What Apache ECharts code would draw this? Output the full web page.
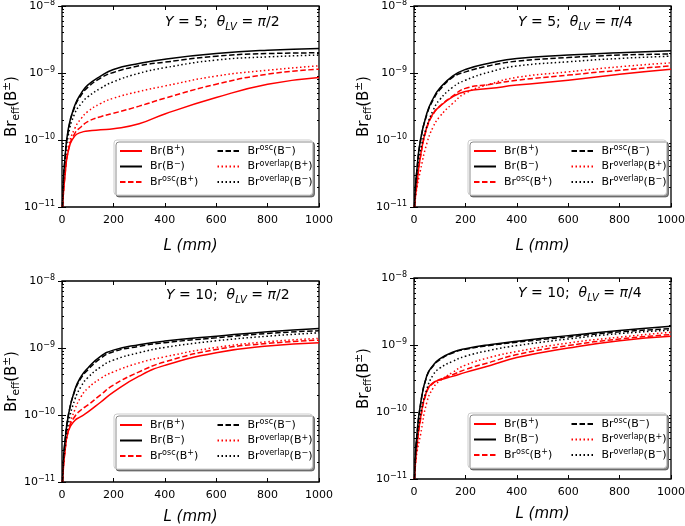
<!DOCTYPE html>
<html><head><meta charset="utf-8">
<script src="https://cdn.jsdelivr.net/npm/echarts@6/dist/echarts.min.js"></script>
<style>html,body{margin:0;padding:0;background:#fff}#c{width:685px;height:526px}</style>
</head><body><div id="c"></div>
<script>
// ---------------- data ----------------
const L = [2, 5, 10, 25, 50, 75, 100, 150, 200, 300, 400, 600, 800, 1000];
const xTicks = [0, 200, 400, 600, 800, 1000];
const yTickExps = ['−11', '−10', '−9', '−8'];
const seriesNames = ['Br(B+)', 'Br(B-)', 'Br^osc(B+)', 'Br^osc(B-)', 'Br^overlap(B+)', 'Br^overlap(B-)'];
const legendLabels = [
  '{n|Br(B}{s|+}{n|)}', '{n|Br(B}{s|−}{n|)}',
  '{n|Br}{s|osc}{n|(B}{s|+}{n|)}', '{n|Br}{s|osc}{n|(B}{s|−}{n|)}',
  '{n|Br}{s|overlap}{n|(B}{s|+}{n|)}', '{n|Br}{s|overlap}{n|(B}{s|−}{n|)}'
];
const panelY = ['5', '5', '10', '10'];
const panelTheta = ['π/2', 'π/4', 'π/2', 'π/4'];

// Panel 1: Y=5, theta=pi/2
const p1_BrBp   = [1e-11, 1.5e-11, 2.5e-11, 7e-11, 1.15e-10, 1.3e-10, 1.36e-10, 1.42e-10, 1.47e-10, 1.75e-10, 2.45e-10, 4.3e-10, 6.8e-10, 8.6e-10];
const p1_BrBm   = [1e-11, 2.2e-11, 4.5e-11, 1.5e-10, 3.3e-10, 5.0e-10, 6.6e-10, 9.0e-10, 1.13e-9, 1.39e-9, 1.61e-9, 1.95e-9, 2.19e-9, 2.32e-9];
const p1_oscBp  = [1e-11, 1.5e-11, 2.6e-11, 7.1e-11, 1.26e-10, 1.58e-10, 1.88e-10, 2.23e-10, 2.5e-10, 3.2e-10, 4.2e-10, 6.8e-10, 9.6e-10, 1.14e-9];
const p1_oscBm  = [1e-11, 2.2e-11, 4.4e-11, 1.4e-10, 3.15e-10, 4.7e-10, 6.1e-10, 8.4e-10, 1.02e-9, 1.28e-9, 1.45e-9, 1.78e-9, 1.95e-9, 2.0e-9];
const p1_ovlBp  = [1e-11, 1.6e-11, 3e-11, 8e-11, 1.5e-10, 2.1e-10, 2.65e-10, 3.5e-10, 4.2e-10, 5.3e-10, 6.4e-10, 9.0e-10, 1.1e-9, 1.28e-9];
const p1_ovlBm  = [1e-11, 2.1e-11, 4.2e-11, 1.2e-10, 2.5e-10, 3.5e-10, 4.4e-10, 5.9e-10, 7.4e-10, 9.9e-10, 1.2e-9, 1.56e-9, 1.74e-9, 1.85e-9];

// Panel 2: Y=5, theta=pi/4
const p2_BrBp   = [1e-11, 1.4e-11, 2.0e-11, 5.7e-11, 1.58e-10, 2.5e-10, 3.15e-10, 4.4e-10, 5.3e-10, 5.9e-10, 6.6e-10, 7.8e-10, 9.6e-10, 1.14e-9];
const p2_BrBm   = [1e-11, 1.8e-11, 3.2e-11, 1.0e-10, 2.5e-10, 4.2e-10, 5.9e-10, 9.0e-10, 1.13e-9, 1.42e-9, 1.65e-9, 1.85e-9, 2.0e-9, 2.14e-9];
const p2_oscBp  = [1e-11, 1.4e-11, 2.0e-11, 5.5e-11, 1.5e-10, 2.45e-10, 3.2e-10, 4.5e-10, 5.9e-10, 6.8e-10, 7.8e-10, 9.3e-10, 1.1e-9, 1.28e-9];
const p2_oscBm  = [1e-11, 1.8e-11, 3.1e-11, 9.5e-11, 2.4e-10, 4.0e-10, 5.6e-10, 8.6e-10, 1.04e-9, 1.3e-9, 1.5e-9, 1.7e-9, 1.85e-9, 1.92e-9];
const p2_ovlBp  = [1e-11, 1.3e-11, 1.8e-11, 3.5e-11, 8.9e-11, 1.58e-10, 2.23e-10, 3.5e-10, 5.0e-10, 6.9e-10, 8.6e-10, 1.04e-9, 1.24e-9, 1.42e-9];
const p2_ovlBm  = [1e-11, 1.6e-11, 2.8e-11, 7e-11, 1.6e-10, 2.8e-10, 4.0e-10, 6.1e-10, 7.8e-10, 1.05e-9, 1.27e-9, 1.47e-9, 1.65e-9, 1.78e-9];

// Panel 3: Y=10, theta=pi/2
const p3_BrBp   = [1e-11, 1.5e-11, 2.5e-11, 5.8e-11, 8.3e-11, 9.5e-11, 1.1e-10, 1.55e-10, 2.2e-10, 3.8e-10, 5.5e-10, 8.5e-10, 1.07e-9, 1.2e-9];
const p3_BrBm   = [1e-11, 2.0e-11, 3.5e-11, 1.0e-10, 2.4e-10, 3.8e-10, 5.0e-10, 7.5e-10, 9.3e-10, 1.12e-9, 1.27e-9, 1.5e-9, 1.75e-9, 1.96e-9];
const p3_oscBp  = [1e-11, 1.6e-11, 2.6e-11, 6e-11, 9.5e-11, 1.2e-10, 1.4e-10, 2.0e-10, 2.8e-10, 4.4e-10, 6.2e-10, 9.5e-10, 1.17e-9, 1.31e-9];
const p3_oscBm  = [1e-11, 2.0e-11, 3.5e-11, 1.0e-10, 2.3e-10, 3.6e-10, 4.7e-10, 7.0e-10, 8.8e-10, 1.06e-9, 1.2e-9, 1.42e-9, 1.65e-9, 1.81e-9];
const p3_ovlBp  = [1e-11, 1.6e-11, 2.6e-11, 6e-11, 1.2e-10, 1.9e-10, 2.5e-10, 3.5e-10, 4.4e-10, 6.0e-10, 7.4e-10, 1.02e-9, 1.24e-9, 1.39e-9];
const p3_ovlBm  = [1e-11, 1.8e-11, 3.0e-11, 7.5e-11, 1.7e-10, 2.7e-10, 3.6e-10, 5.2e-10, 6.6e-10, 8.5e-10, 1.02e-9, 1.28e-9, 1.5e-9, 1.69e-9];

// Panel 4: Y=10, theta=pi/4
const p4_BrBp   = [1e-11, 1.6e-11, 2.7e-11, 8e-11, 2.1e-10, 2.75e-10, 3.0e-10, 3.4e-10, 3.9e-10, 5.0e-10, 6.5e-10, 9.0e-10, 1.16e-9, 1.35e-9];
const p4_BrBm   = [1e-11, 2.0e-11, 4.0e-11, 1.3e-10, 3.5e-10, 5.0e-10, 6.2e-10, 7.8e-10, 8.8e-10, 1.02e-9, 1.14e-9, 1.38e-9, 1.64e-9, 1.9e-9];
const p4_oscBp  = [1e-11, 1.6e-11, 2.7e-11, 7.5e-11, 2.0e-10, 2.7e-10, 3.05e-10, 3.6e-10, 4.3e-10, 5.6e-10, 7.2e-10, 9.8e-10, 1.23e-9, 1.43e-9];
const p4_oscBm  = [1e-11, 2.0e-11, 3.9e-11, 1.25e-10, 3.4e-10, 4.9e-10, 6.0e-10, 7.6e-10, 8.6e-10, 9.9e-10, 1.1e-9, 1.32e-9, 1.57e-9, 1.75e-9];
const p4_ovlBp  = [1e-11, 1.5e-11, 2.3e-11, 4.5e-11, 1.4e-10, 2.3e-10, 2.9e-10, 3.9e-10, 5.0e-10, 6.6e-10, 8.0e-10, 1.07e-9, 1.31e-9, 1.55e-9];
const p4_ovlBm  = [1e-11, 1.8e-11, 3.2e-11, 9e-11, 2.2e-10, 3.6e-10, 4.5e-10, 5.7e-10, 6.8e-10, 8.4e-10, 9.8e-10, 1.23e-9, 1.48e-9, 1.66e-9];

const panels = [
  [p1_BrBp, p1_BrBm, p1_oscBp, p1_oscBm, p1_ovlBp, p1_ovlBm],
  [p2_BrBp, p2_BrBm, p2_oscBp, p2_oscBm, p2_ovlBp, p2_ovlBm],
  [p3_BrBp, p3_BrBm, p3_oscBp, p3_oscBm, p3_ovlBp, p3_ovlBm],
  [p4_BrBp, p4_BrBm, p4_oscBp, p4_oscBm, p4_ovlBp, p4_ovlBm]
];

// ---------------- layout / style ----------------
const FONT = 'DejaVu Sans';
const gridBoxes = [
  {left: 62, top: 6, width: 257, height: 201},
  {left: 414, top: 6, width: 257, height: 201},
  {left: 62, top: 281, width: 257, height: 201},
  {left: 414, top: 278, width: 257, height: 201}
];
const xNameGaps = [32, 32, 28, 28];
const titlePos = [[165, 12], [518, 12], [166, 285], [518, 283]];
const legendPos = [[114, 140], [468, 140], [114, 414], [468, 413]];
const seriesColors = ['#ff0000', '#000000', '#ff0000', '#000000', '#ff0000', '#000000'];
const seriesDash = ['solid', 'solid', [5.5, 2.5], [5.5, 2.5], [1.5, 2.5], [1.5, 2.5]];

const minorTicks = [];
[1e-11, 1e-10, 1e-9].forEach(d => { for (let m = 2; m <= 9; m++) minorTicks.push(m * d); });

const tickStyle = {color: '#000', width: 1};
const grid = [], xAxis = [], yAxis = [], series = [], legend = [], title = [];

function yLabel(v) {
  const e = Math.round(Math.log10(v));
  const idx = e + 11;
  return '{b|10}{s|' + yTickExps[idx] + '}';
}

for (let p = 0; p < 4; p++) {
  grid.push(Object.assign({show: true, borderColor: '#000', borderWidth: 1.3,
    backgroundColor: 'transparent', outerBoundsMode: 'none', containLabel: false}, gridBoxes[p]));

  xAxis.push({
    type: 'value', gridIndex: p, min: xTicks[0], max: xTicks[xTicks.length - 1], interval: 200,
    position: 'bottom',
    axisLine: {show: false}, splitLine: {show: false},
    axisTick: {show: true, inside: true, length: 4, lineStyle: tickStyle},
    axisLabel: {color: '#000', fontSize: 11, fontFamily: FONT, margin: 8, formatter: v => String(v)},
    name: 'L (mm)', nameLocation: 'middle', nameGap: xNameGaps[p], nameMoveOverlap: false,
    nameTextStyle: {fontSize: 15, fontStyle: 'italic', fontFamily: FONT, color: '#000'}
  });
  xAxis.push({
    type: 'value', gridIndex: p, min: 0, max: 1000, interval: 200, position: 'top',
    axisLine: {show: false}, splitLine: {show: false},
    axisTick: {show: true, inside: true, length: 4, lineStyle: tickStyle},
    axisLabel: {show: false}
  });

  const yBase = {type: 'log', logBase: 10, gridIndex: p, min: 1e-11, max: 1e-8,
    axisLine: {show: false}, splitLine: {show: false}, minorTick: {show: false}};
  yAxis.push(Object.assign({}, yBase, {
    position: 'left',
    axisTick: {show: true, inside: true, length: 4, lineStyle: tickStyle},
    axisLabel: {formatter: yLabel, margin: 7, color: '#000', fontFamily: FONT,
      rich: {
        b: {fontSize: 11, lineHeight: 14, fontFamily: FONT, color: '#000'},
        s: {fontSize: 8, lineHeight: 8, verticalAlign: 'top', fontFamily: FONT, color: '#000'}
      }},
    name: '{n|Br}{sub|eff}{n|(B}{sup|±}{n|)}', nameLocation: 'middle', nameGap: 40, nameMoveOverlap: false,
    nameTextStyle: {color: '#000', fontFamily: FONT, fontSize: 15,
      rich: {
        n: {fontSize: 15, lineHeight: 20, fontFamily: FONT, color: '#000'},
        sub: {fontSize: 10.5, lineHeight: 11, verticalAlign: 'bottom', fontFamily: FONT, color: '#000'},
        sup: {fontSize: 10.5, lineHeight: 11, verticalAlign: 'top', fontFamily: FONT, color: '#000'}
      }}
  }));
  yAxis.push(Object.assign({}, yBase, {
    position: 'right',
    axisTick: {show: true, inside: true, length: 4, lineStyle: tickStyle},
    axisLabel: {show: false}
  }));
  yAxis.push(Object.assign({}, yBase, {
    position: 'left',
    axisTick: {show: true, inside: true, length: 2, lineStyle: tickStyle, customValues: minorTicks},
    axisLabel: {show: false}
  }));
  yAxis.push(Object.assign({}, yBase, {
    position: 'right',
    axisTick: {show: true, inside: true, length: 2, lineStyle: tickStyle, customValues: minorTicks},
    axisLabel: {show: false}
  }));

  panels[p].forEach((vals, k) => {
    series.push({
      type: 'line', name: seriesNames[k], xAxisIndex: 2 * p, yAxisIndex: 4 * p,
      data: L.map((x, i) => [x, vals[i]]),
      symbol: 'none', smooth: 0.5, silent: true,
      lineStyle: {color: seriesColors[k], width: 1.5, type: seriesDash[k]},
      itemStyle: {color: seriesColors[k]},
      emphasis: {disabled: true}
    });
  });

  legend.push({
    orient: 'vertical', left: legendPos[p][0], top: legendPos[p][1], height: 55,
    padding: [4, 0, 6, 5], itemGap: 1.5, itemWidth: 22, itemHeight: 14,
    backgroundColor: '#fff', borderColor: '#cccccc', borderWidth: 1, borderRadius: 3,
    shadowColor: 'rgba(0,0,0,0.45)', shadowBlur: 0, shadowOffsetX: 2, shadowOffsetY: 2,
    itemStyle: {opacity: 0}, selectedMode: false,
    data: seriesNames,
    formatter: name => legendLabels[seriesNames.indexOf(name)],
    textStyle: {color: '#000', fontFamily: FONT, fontSize: 11, width: 65, padding: [0, 0, 0, 3], lineHeight: 14,
      rich: {
        n: {fontSize: 11, lineHeight: 14, fontFamily: FONT, color: '#000'},
        s: {fontSize: 8, lineHeight: 8, verticalAlign: 'top', fontFamily: FONT, color: '#000'}
      }}
  });

  title.push({
    left: titlePos[p][0], top: titlePos[p][1], padding: 0,
    text: '{i|Y}{n| = ' + panelY[p] + ';  }{i|θ}{sub|LV}{n| = }{i|' + panelTheta[p].charAt(0) + '}{n|' + panelTheta[p].slice(1) + '}',
    textStyle: {color: '#000', fontFamily: FONT, fontSize: 14, fontWeight: 'normal',
      rich: {
        i: {fontStyle: 'italic', fontSize: 14, lineHeight: 20, fontFamily: FONT, color: '#000'},
        n: {fontSize: 14, lineHeight: 20, fontFamily: FONT, color: '#000'},
        sub: {fontStyle: 'italic', fontSize: 10, lineHeight: 10, verticalAlign: 'bottom', fontFamily: FONT, color: '#000'}
      }}
  });
}

const chart = echarts.init(document.getElementById('c'), null, {renderer: 'canvas'});
chart.setOption({
  animation: false, backgroundColor: '#fff',
  grid, xAxis, yAxis, series, legend, title
});
</script></body></html>
